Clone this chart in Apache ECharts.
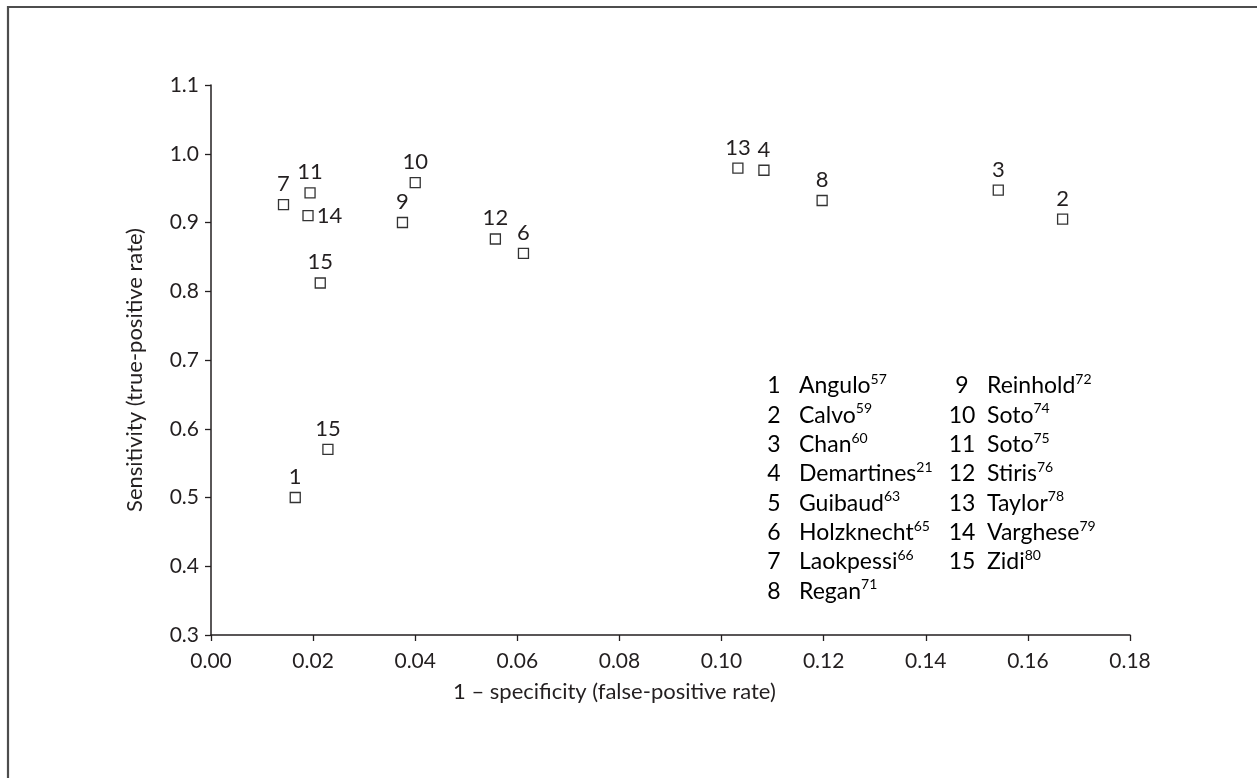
<!DOCTYPE html>
<html>
<head>
<meta charset="utf-8">
<script src="https://cdn.jsdelivr.net/npm/echarts@6/dist/echarts.min.js"></script>
<style>
html,body{margin:0;padding:0;background:#fff;}
#chart{width:1257px;height:778px;}
</style>
</head>
<body>
<div id="chart"></div>
<script>
// ---- data ----
const pointLabels = ['7','11','14','15','9','10','15','1','12','6','13','4','8','3','2'];
const falsePositiveRate = [0.0142,0.0194,0.0190,0.0214,0.0375,0.0400,0.0229,0.0165,0.0557,0.0612,0.1032,0.1083,0.1197,0.1542,0.1668];
const sensitivity = [0.926,0.943,0.910,0.812,0.900,0.958,0.570,0.500,0.876,0.855,0.979,0.976,0.932,0.947,0.905];
const xTicks = ['0.00','0.02','0.04','0.06','0.08','0.10','0.12','0.14','0.16','0.18'];
const yTicks = ['0.3','0.4','0.5','0.6','0.7','0.8','0.9','1.0','1.1'];
const studyNumbers = ['1','2','3','4','5','6','7','8','9','10','11','12','13','14','15'];
const studyNames = ['Angulo','Calvo','Chan','Demartines','Guibaud','Holzknecht','Laokpessi','Regan','Reinhold','Soto','Soto','Stiris','Taylor','Varghese','Zidi'];
const studyRefs = ['57','59','60','21','63','65','66','71','72','74','75','76','78','79','80'];
const xTitle = '1 – specificity (false-positive rate)';
const yTitle = 'Sensitivity (true-positive rate)';

// ---- chart ----
const FONT = 'Lato';
const INK = '#231f20';
const chart = echarts.init(document.getElementById('chart'), null, {renderer:'canvas'});

const seriesData = falsePositiveRate.map((x, i) => {
  const item = {value: [x, sensitivity[i]], name: pointLabels[i]};
  if (pointLabels[i] === '14' ) item.label = {position: 'right', distance: 3};
  return item;
});

const graphics = [
  {type:'rect', silent:true, z:100,
   shape:{x:8, y:7, width:1400, height:1000},
   style:{fill:'none', stroke:'#4d4d4d', lineWidth:2.2}},
  {type:'text', silent:true, left: 453, top: 681,
   style:{text:xTitle, font:'22px ' + FONT, fill:INK}},
  {type:'text', silent:true, x: 135, y: 370, rotation: Math.PI/2,
   style:{text:yTitle, font:'22px ' + FONT, fill:INK, align:'center', verticalAlign:'middle'}}
];

const rich = {
  num:{fontFamily:FONT, fontSize:23, color:INK, width:26, align:'right', lineHeight:29},
  name:{fontFamily:FONT, fontSize:23, color:INK, padding:[0,0,0,12], lineHeight:29},
  sup:{fontFamily:FONT, fontSize:14, color:INK, verticalAlign:'top', lineHeight:14, padding:[1,0,0,0]}
};
studyNumbers.forEach((n, i) => {
  const col = i < 8 ? 0 : 1;
  const row = i < 8 ? i : i - 8;
  graphics.push({
    type:'text', silent:true,
    x: col === 0 ? 761 : 949,
    y: 386 + row * 29.3,
    style:{
      text: '{num|' + n + '}{name|' + studyNames[i] + '}{sup|' + studyRefs[i] + '}',
      rich: rich, verticalAlign:'middle', align:'left'
    }
  });
});

chart.setOption({
  animation:false,
  backgroundColor:'#fff',
  grid:{left:211, right:127, top:85, bottom:143, containLabel:false},
  xAxis:{
    type:'value', min:0, max:0.18, interval:0.02,
    axisLine:{show:true, lineStyle:{color:INK, width:1.5}},
    axisTick:{show:true, length:6, inside:false, lineStyle:{color:INK, width:1.3}},
    splitLine:{show:false},
    axisLabel:{margin:16, fontFamily:FONT, fontSize:21, color:INK,
      formatter:(v) => xTicks[Math.round(v / 0.02)]}
  },
  yAxis:{
    type:'value', min:0.3, max:1.1, interval:0.1,
    axisLine:{show:true, lineStyle:{color:INK, width:1.5}},
    axisTick:{show:true, length:6, inside:false, lineStyle:{color:INK, width:1.3}},
    splitLine:{show:false},
    axisLabel:{margin:12, fontFamily:FONT, fontSize:21, color:INK,
      formatter:(v) => yTicks[Math.round((v - 0.3) / 0.1)]}
  },
  series:[{
    type:'scatter',
    symbol:'rect', symbolSize:10,
    itemStyle:{color:'#fff', borderColor:'#333', borderWidth:1.3, opacity:1},
    label:{show:true, position:'top', distance:4, fontFamily:FONT, fontSize:22, color:INK,
      formatter:(p) => p.name},
    emphasis:{disabled:true},
    data: seriesData
  }],
  graphic: graphics
});
</script>
</body>
</html>
